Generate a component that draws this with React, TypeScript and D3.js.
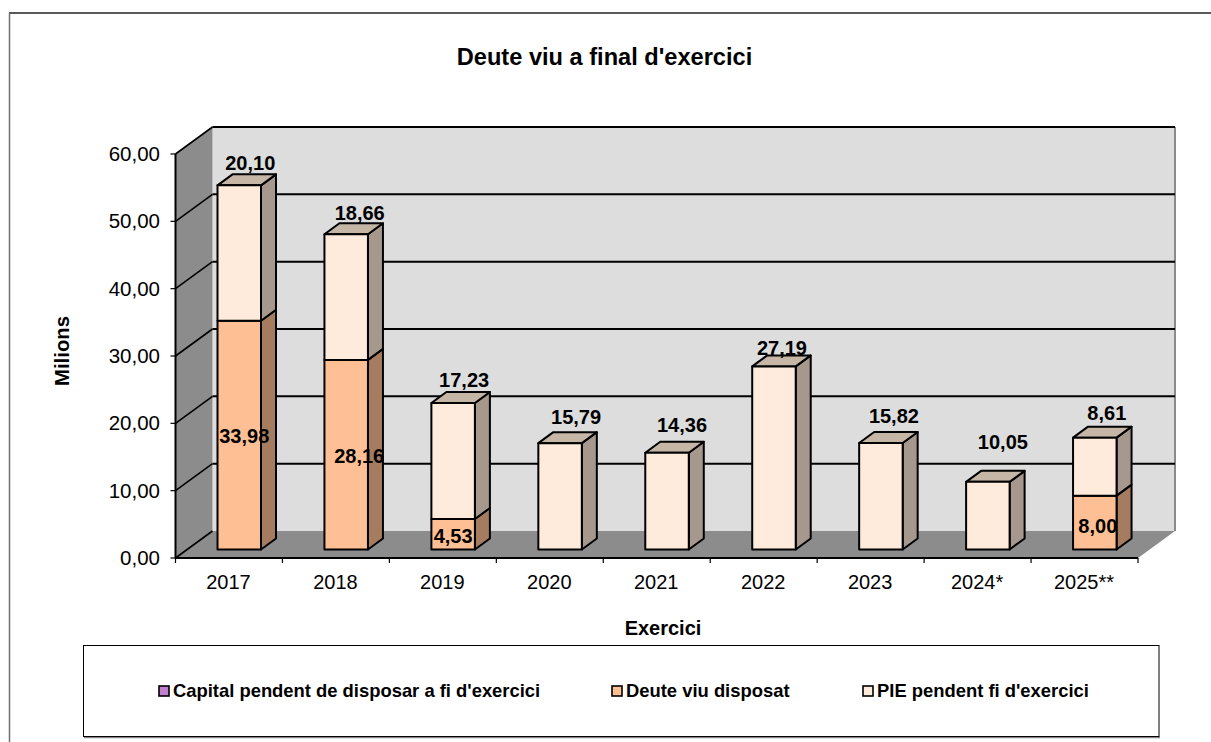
import React from 'react';
import * as d3 from 'd3';

const categories = ['2017','2018','2019','2020','2021','2022','2023','2024*','2025**'];
const deuteViu = [33.98,28.16,4.53,0,0,0,0,0,8.00];
const pie = [20.10,18.66,17.23,15.79,14.36,27.19,15.82,10.05,8.61];
const yTicks = [0,10,20,30,40,50,60];
const legendItems = ["Capital pendent de disposar a fi d'exercici","Deute viu disposat","PIE pendent fi d'exercici"];
const legendColors = ['#C27FD0','#FFBF94','#FFEBDB'];

const fmt = (v:number)=>v.toFixed(2).replace('.',',');
const FONT = 'Liberation Sans, Arial, sans-serif';

// chart geometry (page coordinates)
const x0 = 175.5, x1 = 1138, yBase = 558, yTop = 154;
const DX = 37, DY = -27;
const barW = 43.5, depthX = 15, depthY = -11;
const barShiftX = 42, barShiftY = -8.5;
// hand placement of labels, as [dx from bar front centre, baseline y]
const topLabelPos: [number, number][] = [[11,170],[13.5,220],[11,387],[16,424],[15,432],[8,355],[13,423],[15,449],[12,420]];
const lowLabelPos: Record<number,[number,number]> = {0:[5,443],1:[13,463],2:[0,543],8:[3,533]};

function Bar({x,yA,yB,face,side,top,showTop}:{x:number;yA:number;yB:number;face:string;side:string;top:string;showTop:boolean}){
  const pts=(a:number[][])=>a.map(p=>p.join(',')).join(' ');
  const r=x+barW;
  return <g stroke="#000" strokeWidth={2} strokeLinejoin="round">
    <polygon fill={side} points={pts([[r,yA],[r+depthX,yA+depthY],[r+depthX,yB+depthY],[r,yB]])}/>
    {showTop && <polygon fill={top} points={pts([[x,yB],[x+depthX,yB+depthY],[r+depthX,yB+depthY],[r,yB]])}/>}
    <rect x={x} y={yB} width={barW} height={yA-yB} fill={face}/>
  </g>;
}

export default function App(){
  const y=d3.scaleLinear().domain([0,60]).range([yBase,yTop]);
  const xb=d3.scaleBand().domain(categories).range([x0,x1]);
  const tickXs=[...categories.map(c=>xb(c)!),x1];
  const p=(a:number[][])=>a.map(q=>q.join(',')).join(' ');
  return <svg width={1211} height={742} style={{position:'absolute',left:0,top:0,background:'#fff'}} fontFamily={FONT}>
    <line x1={9} y1={13} x2={1211} y2={13} stroke="#222" strokeWidth={1.5}/>
    <line x1={9.5} y1={13} x2={9.5} y2={742} stroke="#707070" strokeWidth={1.5}/>
    <text x={604.5} y={65} textAnchor="middle" fontWeight="bold" fontSize={23.6}>Deute viu a final d'exercici</text>

    {/* walls */}
    <polygon fill="#DDDDDD" points={p([[x0+DX,yTop+DY],[x1+DX,yTop+DY],[x1+DX,yBase+DY],[x0+DX,yBase+DY]])}/>
    <polygon fill="#8C8C8C" points={p([[x0,yBase],[x0+DX,yBase+DY],[x1+DX,yBase+DY],[x1,yBase]])}/>
    <polygon fill="#8C8C8C" points={p([[x0,yBase],[x0+DX,yBase+DY],[x0+DX,yTop+DY],[x0,yTop]])}/>
    <line x1={x1+DX} y1={yTop+DY} x2={x1+DX} y2={yBase+DY} stroke="#8a8a8a" strokeWidth={2}/>
    {/* gridlines */}
    <g stroke="#000" strokeWidth={2} fill="none">
      {yTicks.map(t=><g key={t}>
        <line x1={x0} y1={y(t)} x2={x0+DX} y2={y(t)+DY} strokeWidth={1.6}/>
        {t>0 && <line x1={x0+DX} y1={y(t)+DY} x2={x1+DX} y2={y(t)+DY}/>}
      </g>)}
      <line x1={x0} y1={yBase} x2={x0} y2={yTop}/>
      <line x1={x0} y1={yBase} x2={x1} y2={yBase}/>
      {yTicks.map(t=><line key={t} x1={x0-5} y1={y(t)} x2={x0} y2={y(t)} strokeWidth={1.2}/>)}
      {tickXs.map((t,i)=><line key={i} x1={t} y1={yBase} x2={t} y2={yBase+5} strokeWidth={1.2}/>)}
    </g>
    {/* y labels */}
    {yTicks.map(t=><text key={t} x={160} y={y(t)+7} textAnchor="end" fontSize={20.5}>{fmt(t)}</text>)}
    {categories.map(c=><text key={c} x={xb(c)!+xb.bandwidth()/2-0.5} y={589} textAnchor="middle" fontSize={20}>{c}</text>)}

    {/* bars */}
    {categories.map((c,i)=>{
      const bx=xb(c)!+barShiftX;
      const b=(v:number)=>y(v)+barShiftY;
      const low=deuteViu[i], up=low+pie[i];
      return <g key={c}>
        {low>0 && <Bar x={bx} yA={b(0)} yB={b(low)} face="#FFBF94" side="#A67C60" top="#C4A080" showTop={false}/>}
        <Bar x={bx} yA={b(low)} yB={b(up)} face="#FFEBDB" side="#A6988C" top="#C6B6A6" showTop={true}/>
      </g>;
    })}
    {/* value labels */}
    {categories.map((c,i)=>{
      const cx=xb(c)!+barShiftX+barW/2;
      const low=lowLabelPos[i];
      return <g key={c} fontWeight="bold" fontSize={20} textAnchor="middle">
        <text x={cx+topLabelPos[i][0]} y={topLabelPos[i][1]}>{fmt(pie[i])}</text>
        {low && <text x={cx+low[0]} y={low[1]}>{fmt(deuteViu[i])}</text>}
      </g>;
    })}

    <text x={663} y={634.5} textAnchor="middle" fontWeight="bold" fontSize={20}>Exercici</text>
    <text transform="translate(69,351) rotate(-90)" textAnchor="middle" fontWeight="bold" fontSize={20.3}>Milions</text>

    {/* legend */}
    <line x1={84} y1={737.5} x2={1160} y2={737.5} stroke="#888" strokeWidth={1.5}/>
    <rect x={83.5} y={645.5} width={1075.5} height={91} fill="#fff" stroke="#000" strokeWidth={1}/>
    {legendItems.map((t,i)=>{
      const lx=[159,612,863][i];
      return <g key={t}>
        <rect x={lx} y={686} width={10} height={10} fill={legendColors[i]} stroke="#000" strokeWidth={1.6}/>
        <text x={lx+14} y={697} fontWeight="bold" fontSize={18.4}>{t}</text>
      </g>;
    })}
  </svg>;
}
